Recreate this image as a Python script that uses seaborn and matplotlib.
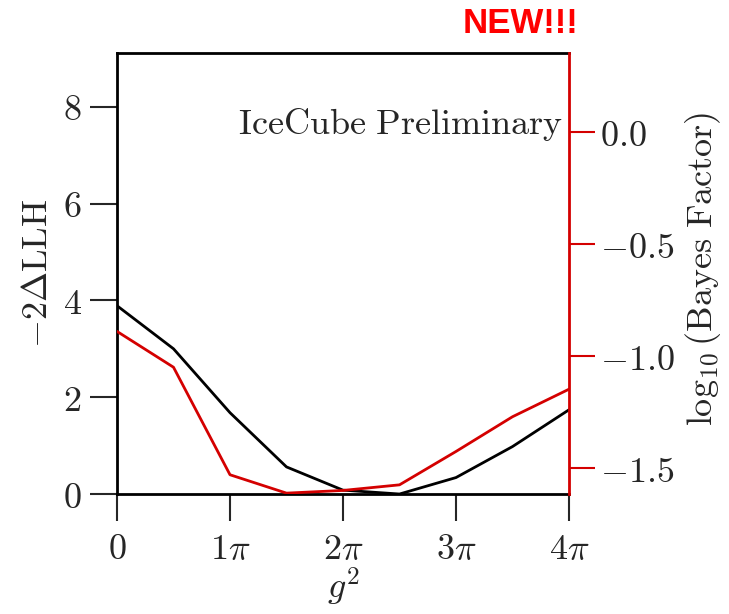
import numpy as np
import matplotlib
matplotlib.use("Agg")
import matplotlib.pyplot as plt
import seaborn as sns
import pandas as pd

# data (x in units of pi)
g2_over_pi = [0, 0.5, 1, 1.5, 2, 2.5, 3, 3.5, 4]
llh = [3.89, 3.0, 1.68, 0.56, 0.08, 0.0, 0.34, 0.98, 1.74]
log_bf = [-0.89, -1.05, -1.53, -1.612, -1.60, -1.575, -1.426, -1.271, -1.148]
xtick_labels = [r'$0$', r'$1\pi$', r'$2\pi$', r'$3\pi$', r'$4\pi$']
left_ticks = [0, 2, 4, 6, 8]
right_ticks = [0.0, -0.5, -1.0, -1.5]
right_tick_labels = [r'$0.0$', r'$-0.5$', r'$-1.0$', r'$-1.5$']

sns.set_style("ticks")
plt.rcParams['mathtext.fontset'] = 'cm'
plt.rcParams['font.family'] = ['DejaVu Serif']

df = pd.DataFrame({'g2': np.array(g2_over_pi) * np.pi, 'llh': llh, 'bf': log_bf})

RED = '#d40000'
fig = plt.figure(figsize=(7.29, 6.14), dpi=100)
ax = fig.add_axes([0.1605, 0.1954, 0.62, 0.7183])
sns.lineplot(data=df, x='g2', y='llh', ax=ax, color='black', lw=2)
ax.set_xlim(0, 4 * np.pi)
ax.set_ylim(0, 9.11)
ax.set_xticks(np.arange(5) * np.pi)
ax.set_xticklabels(xtick_labels)
ax.set_yticks(left_ticks)
ax.set_yticklabels([rf'${v}$' for v in left_ticks])
ax.tick_params(axis='both', which='major', length=19.5, width=1.5, labelsize=26, direction='out')
ax.tick_params(axis='x', pad=8)
ax.tick_params(axis='y', pad=6)
ax.set_xlabel(r'$g^2$', fontsize=26, labelpad=0)
ax.set_ylabel(r'$-2\Delta\mathrm{LLH}$', fontsize=26, labelpad=6)
for s in ['left', 'bottom', 'top']:
    ax.spines[s].set_linewidth(2)
    ax.spines[s].set_color('black')
ax.spines['right'].set_visible(False)

ax2 = ax.twinx()
sns.lineplot(data=df, x='g2', y='bf', ax=ax2, color=RED, lw=2)
ax2.set_ylim(-1.616, 0.353)
ax2.set_yticks(right_ticks)
ax2.set_yticklabels(right_tick_labels)
ax2.tick_params(axis='y', length=19, width=1.5, labelsize=26, pad=3, color=RED, direction='out')
ax2.set_ylabel(r'$\log_{10}(\mathrm{Bayes\ Factor})$', fontsize=26)
ax2.yaxis.set_label_coords(1.253, 0.51)
for s in ['left', 'bottom', 'top']:
    ax2.spines[s].set_visible(False)
ax2.spines['right'].set_color(RED)
ax2.spines['right'].set_linewidth(2)
ax2.set_xlim(0, 4 * np.pi)

ax.text(0.988, 0.837, r'$\mathrm{IceCube\ Preliminary}$', transform=ax.transAxes,
        ha='right', va='center', fontsize=26)
fig.text(0.793, 0.962, 'NEW!!!', color='#ff0000', fontsize=25, fontweight='bold',
         family='Liberation Sans', ha='right', va='center')

fig.savefig('out.png', dpi=100)
